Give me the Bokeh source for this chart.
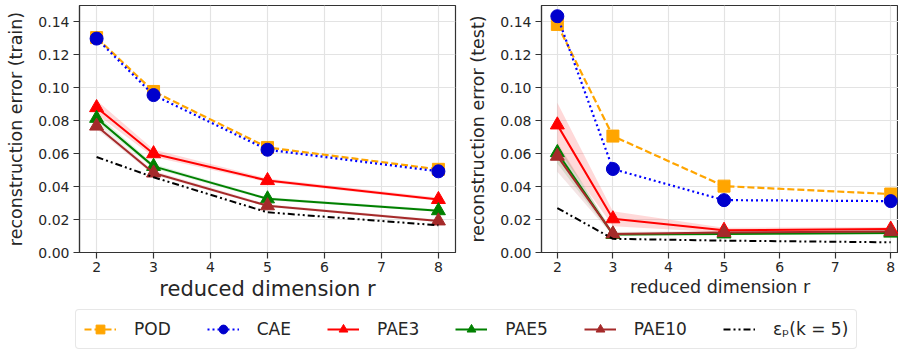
from bokeh.plotting import figure
from bokeh.layouts import column, row
from bokeh.models import Range1d, FixedTicker, NumeralTickFormatter, Legend, LegendItem, ColumnDataSource
from bokeh.embed import file_html
from bokeh.resources import INLINE

# ---------------- data ----------------
r_dims = [2, 3, 5, 8]
x_ticks = [2, 3, 4, 5, 6, 7, 8]
y_ticks = [0.00, 0.02, 0.04, 0.06, 0.08, 0.10, 0.12, 0.14]

# train
pod_train = [0.1305, 0.0978, 0.0638, 0.0505]
cae_train = [0.1299, 0.0956, 0.0624, 0.0493]
pae3_train = [0.0880, 0.0600, 0.0437, 0.0322]
pae5_train = [0.0815, 0.0523, 0.0326, 0.0254]
pae10_train = [0.0768, 0.0483, 0.0284, 0.0192]
eps_train = [0.0580, 0.0457, 0.0244, 0.0165]
pae3_train_lo = [0.0840, 0.0580, 0.0427, 0.0312]
pae3_train_hi = [0.0925, 0.0625, 0.0450, 0.0334]
pae5_train_lo = [0.0790, 0.0510, 0.0318, 0.0247]
pae5_train_hi = [0.0840, 0.0538, 0.0335, 0.0262]
pae10_train_lo = [0.0748, 0.0470, 0.0276, 0.0185]
pae10_train_hi = [0.0790, 0.0497, 0.0293, 0.0200]

# test
pod_test = [0.1385, 0.0707, 0.0403, 0.0355]
cae_test = [0.1435, 0.0507, 0.0318, 0.0312]
pae3_test = [0.0775, 0.0205, 0.0135, 0.0142]
pae5_test = [0.0607, 0.0110, 0.0113, 0.0118]
pae10_test = [0.0585, 0.0113, 0.0122, 0.0127]
eps_test = [0.0270, 0.0083, 0.0072, 0.0062]
pae3_test_lo = [0.0630, 0.0160, 0.0122, 0.0130]
pae3_test_hi = [0.0910, 0.0250, 0.0150, 0.0155]
pae5_test_lo = [0.0540, 0.0100, 0.0105, 0.0110]
pae5_test_hi = [0.0660, 0.0122, 0.0122, 0.0128]
pae10_test_lo = [0.0490, 0.0102, 0.0112, 0.0115]
pae10_test_hi = [0.0670, 0.0125, 0.0132, 0.0138]

labels = ["POD", "CAE", "PAE3", "PAE5", "PAE10", "\u03b5\u209a(k = 5)"]

# ---------------- styles ----------------
FONT = "DejaVu Sans"
C_POD = "#ffa500"
C_CAE_LINE = "#0000ff"
C_CAE = "#0000cd"
C_PAE3 = "#ff0000"
C_PAE5 = "#008000"
C_PAE10 = "#a52a2a"
C_EPS = "#000000"
DASH_POD = "7 3"
DASH_CAE = "2 3"
DASH_EPS = "7 3 2 3 2 3"


def style_axes(p, ylabel, xlabel, xlabel_size):
    for ax in (p.xaxis[0], p.yaxis[0]):
        ax.axis_line_color = "#333333"
        ax.axis_line_width = 1.2
        ax.major_tick_line_color = "#333333"
        ax.major_tick_line_width = 1.2
        ax.major_tick_out = 6
        ax.major_tick_in = 0
        ax.minor_tick_line_color = None
        ax.major_label_text_font = FONT
        ax.major_label_text_font_size = "14px"
        ax.major_label_text_color = "#262626"
        ax.axis_label_text_font = FONT
        ax.axis_label_text_font_style = "normal"
        ax.axis_label_text_color = "#262626"
    p.xaxis[0].ticker = FixedTicker(ticks=x_ticks)
    p.yaxis[0].ticker = FixedTicker(ticks=y_ticks)
    p.yaxis[0].formatter = NumeralTickFormatter(format="0.00")
    p.xaxis[0].axis_label = xlabel
    p.yaxis[0].axis_label = ylabel
    p.xaxis[0].axis_label_text_font_size = xlabel_size
    p.yaxis[0].axis_label_text_font_size = "17.5px"
    p.xaxis[0].major_label_standoff = 3
    p.yaxis[0].major_label_standoff = 4
    p.xaxis[0].axis_label_standoff = 2
    p.yaxis[0].axis_label_standoff = 9
    p.xgrid.ticker = FixedTicker(ticks=x_ticks)
    p.ygrid.ticker = FixedTicker(ticks=y_ticks)
    p.grid.grid_line_color = "#e3e3e3"
    p.grid.grid_line_width = 1.2
    p.outline_line_color = "#333333"
    p.outline_line_width = 1.2
    p.outline_line_alpha = 1.0


def draw_panel(p, pod, cae, pae3, pae5, pae10, eps, bands):
    src = ColumnDataSource(dict(r=r_dims, pod=pod, cae=cae, pae3=pae3, pae5=pae5,
                                pae10=pae10, eps=eps,
                                p3lo=bands[0], p3hi=bands[1],
                                p5lo=bands[2], p5hi=bands[3],
                                p10lo=bands[4], p10hi=bands[5]))
    # uncertainty bands
    p.varea(x="r", y1="p3lo", y2="p3hi", source=src, fill_color=C_PAE3, fill_alpha=0.15)
    p.varea(x="r", y1="p5lo", y2="p5hi", source=src, fill_color=C_PAE5, fill_alpha=0.12)
    p.varea(x="r", y1="p10lo", y2="p10hi", source=src, fill_color=C_PAE10, fill_alpha=0.12)
    # POD
    p.line(x="r", y="pod", source=src, line_color=C_POD, line_width=2.2, line_dash=DASH_POD)
    p.scatter(x="r", y="pod", source=src, marker="square", size=12, fill_color=C_POD, line_color=C_POD)
    # CAE
    p.line(x="r", y="cae", source=src, line_color=C_CAE_LINE, line_width=2.2, line_dash=DASH_CAE)
    p.scatter(x="r", y="cae", source=src, marker="circle", size=13, fill_color=C_CAE, line_color=C_CAE)
    # PAE
    for col, c in (("pae3", C_PAE3), ("pae5", C_PAE5), ("pae10", C_PAE10)):
        p.line(x="r", y=col, source=src, line_color=c, line_width=2)
        p.scatter(x="r", y=col, source=src, marker="triangle", size=14, fill_color=c, line_color=c)
    # epsilon
    p.line(x="r", y="eps", source=src, line_color=C_EPS, line_width=2, line_dash=DASH_EPS)


H_TOP = 305

p1 = figure(width=465, height=H_TOP, x_range=Range1d(1.7, 8.3), y_range=Range1d(0, 0.15),
            output_backend="svg", toolbar_location=None,
            min_border_left=79, min_border_right=10, min_border_top=5, min_border_bottom=53)
draw_panel(p1, pod_train, cae_train, pae3_train, pae5_train, pae10_train, eps_train,
           [pae3_train_lo, pae3_train_hi, pae5_train_lo, pae5_train_hi, pae10_train_lo, pae10_train_hi])
style_axes(p1, "reconstruction error (train)", "reduced dimension r", "21px")

p2 = figure(width=433, height=H_TOP, x_range=Range1d(1.715, 8.14), y_range=Range1d(0, 0.15),
            output_backend="svg", toolbar_location=None,
            min_border_left=66, min_border_right=0, min_border_top=5, min_border_bottom=53)
draw_panel(p2, pod_test, cae_test, pae3_test, pae5_test, pae10_test, eps_test,
           [pae3_test_lo, pae3_test_hi, pae5_test_lo, pae5_test_hi, pae10_test_lo, pae10_test_hi])
style_axes(p2, "reconstruction error (test)", "reduced dimension r", "17.5px")

# ---------------- legend strip ----------------
p3 = figure(width=898, height=354 - H_TOP, x_range=Range1d(0, 1), y_range=Range1d(0, 1),
            output_backend="svg", toolbar_location=None, x_axis_type=None, y_axis_type=None,
            min_border_left=0, min_border_right=0, min_border_top=0, min_border_bottom=0)
p3.outline_line_color = None
p3.grid.visible = False
# legend-only renderers, placed outside the visible range
dummy = ColumnDataSource(dict(x=[-5.0, -4.0], y=[-5.0, -4.0]))
items = []
specs = [
    (C_POD, DASH_POD, "square", 11, C_POD),
    (C_CAE_LINE, DASH_CAE, "circle", 12, C_CAE),
    (C_PAE3, "solid", "triangle", 13, C_PAE3),
    (C_PAE5, "solid", "triangle", 13, C_PAE5),
    (C_PAE10, "solid", "triangle", 13, C_PAE10),
    (C_EPS, DASH_EPS, None, 0, None),
]
for lab, (lc, dash, mk, sz, mc) in zip(labels, specs):
    rs = [p3.line(x="x", y="y", source=dummy, line_color=lc, line_width=2.2, line_dash=dash)]
    if mk is not None:
        rs.append(p3.scatter(x="x", y="y", source=dummy, marker=mk, size=sz,
                             fill_color=mc, line_color=mc))
    items.append(LegendItem(label=lab, renderers=rs))

leg = Legend(items=items, orientation="horizontal", location=(75, 5),
             glyph_width=32, glyph_height=22, label_height=22, label_standoff=18,
             spacing=36, padding=8, margin=0,
             label_text_font=FONT, label_text_font_size="17px", label_text_color="#262626",
             border_line_color="#d0d0d0", border_line_width=1.2,
             background_fill_color="white", background_fill_alpha=1.0)
try:
    leg.border_radius = 4
except Exception:
    pass
p3.add_layout(leg, "center")

layout = column(row(p1, p2), p3)
open("out.html", "w").write(file_html(layout, INLINE))
